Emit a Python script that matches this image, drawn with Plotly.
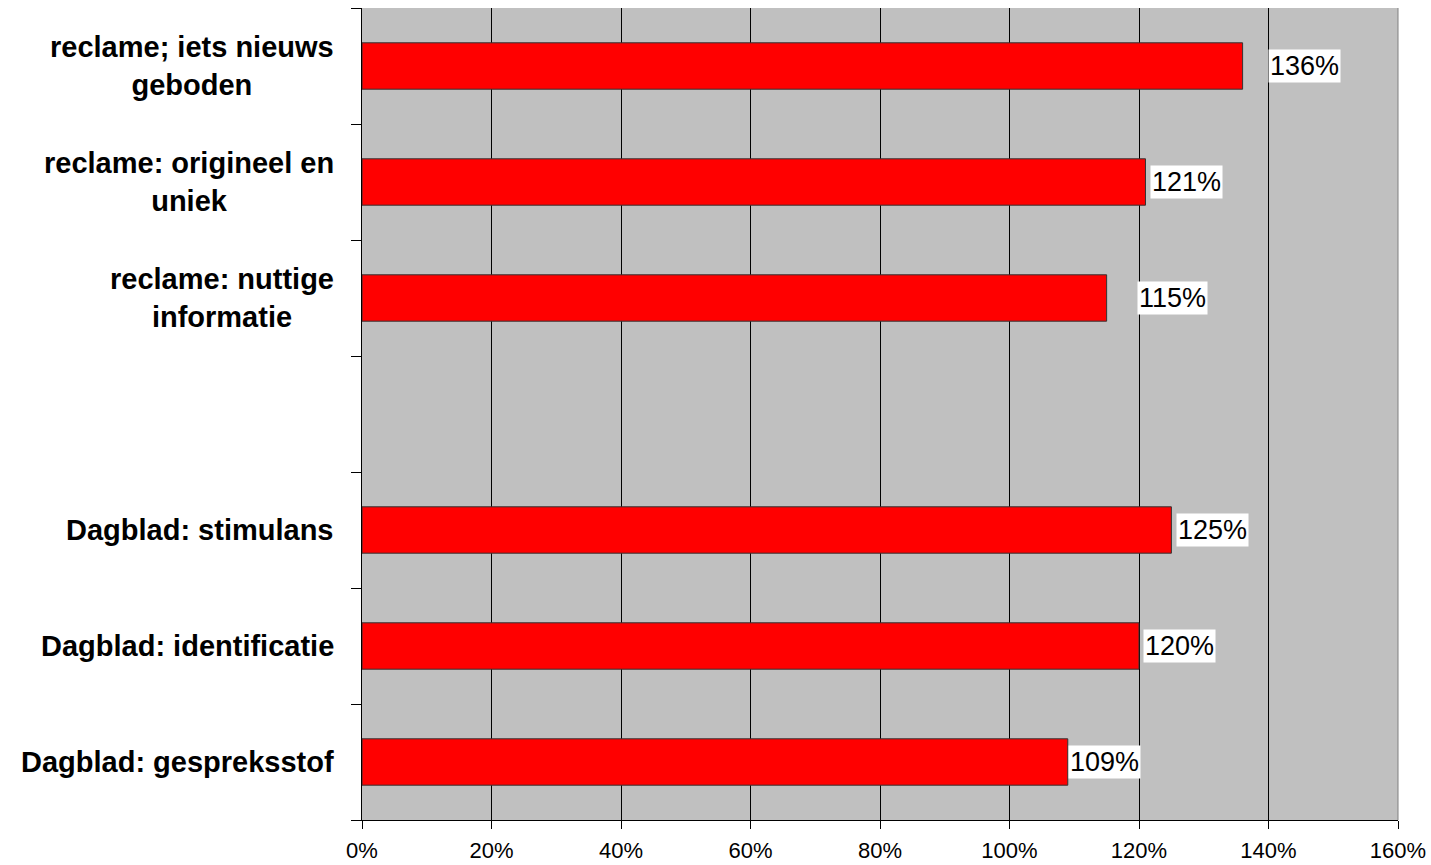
import plotly.graph_objects as go

categories = [
    "reclame; iets nieuws<br>geboden",
    "reclame: origineel en<br>uniek",
    "reclame: nuttige<br>informatie",
    "",
    "Dagblad: stimulans",
    "Dagblad: identificatie",
    "Dagblad: gespreksstof",
]
values = [136, 121, 115, None, 125, 120, 109]
value_labels = ["136%", "121%", "115%", "", "125%", "120%", "109%"]
x_ticks = [0, 20, 40, 60, 80, 100, 120, 140, 160]
x_tick_labels = ["0%", "20%", "40%", "60%", "80%", "100%", "120%", "140%", "160%"]

# styling: manual label offsets (pixels) as in the original
label_shift = [25, 5, 30, 0, 5, 4, 0]

FONT = "Liberation Sans, Arial, sans-serif"
pos = list(range(len(categories)))

fig = go.Figure()
fig.add_trace(go.Bar(
    x=values, y=pos, orientation="h", width=0.4,
    marker=dict(color="#FF0000", line=dict(color="#333333", width=1)),
    hoverinfo="x+y",
))

annotations = []
for i, cat in enumerate(categories):
    if cat:
        annotations.append(dict(
            xref="paper", yref="y", x=0, y=i, text="<b>" + cat + "</b>",
            xanchor="right", yanchor="middle", align="center", showarrow=False,
            xshift=-26, font=dict(family=FONT, size=29, color="black"),
        ))
for i, v in enumerate(values):
    if v is not None:
        annotations.append(dict(
            xref="x", yref="y", x=v, y=i, text=value_labels[i],
            xanchor="left", yanchor="middle", showarrow=False,
            xshift=label_shift[i], bgcolor="white", borderpad=1,
            font=dict(family=FONT, size=27, color="black"),
        ))

fig.update_layout(
    width=1431, height=865,
    margin=dict(l=362, r=33, t=8, b=45, autoexpand=False),
    paper_bgcolor="white", plot_bgcolor="#C0C0C0",
    showlegend=False, bargap=0.6,
    annotations=annotations,
    xaxis=dict(
        range=[0, 160], tickvals=x_ticks, ticktext=x_tick_labels,
        showgrid=True, gridcolor="black", gridwidth=1,
        showline=True, linecolor="black", linewidth=1,
        ticks="outside", ticklen=8, tickcolor="black",
        ticklabelstandoff=3, automargin=False,
        tickfont=dict(family=FONT, size=22, color="black"),
        zeroline=False, fixedrange=True,
    ),
    yaxis=dict(
        range=[6.5, -0.5], tickvals=pos, ticktext=[""] * len(pos),
        ticks="", showgrid=False, zeroline=False, automargin=False,
        showline=True, linecolor="black", linewidth=1,
        minor=dict(tick0=0.5, dtick=1, ticks="outside", ticklen=10,
                   tickcolor="black", showgrid=False),
        fixedrange=True,
    ),
)
fig.add_shape(type="line", xref="paper", yref="paper", x0=1, x1=1, y0=0, y1=1,
              line=dict(color="#808080", width=1))

fig.write_html("out.html")
